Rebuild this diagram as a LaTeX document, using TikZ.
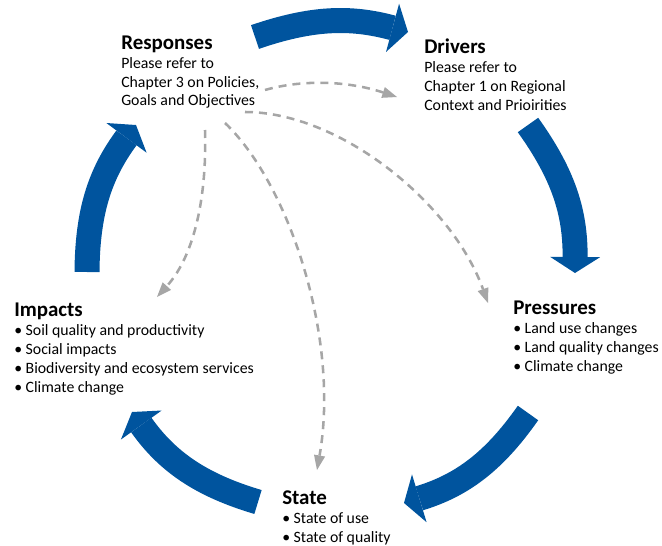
\documentclass[tikz,border=0pt]{standalone}
\usepackage{fontspec}
\setmainfont{Carlito}
\usetikzlibrary{positioning,arrows.meta}
\definecolor{cycleblue}{HTML}{00549E}
\definecolor{linkgray}{HTML}{A6A6A6}
\tikzset{
  head/.style={anchor=base west,inner sep=0pt,font=\fontsize{15.7}{18}\selectfont\bfseries},
  itemtext/.style={anchor=base west,inner sep=0pt,font=\fontsize{11.85}{14}\selectfont},
  cyclearrow/.style={cycleblue,line width=18.75pt,-{Triangle[length=12pt,width=37.5pt,line width=0pt]}},
  linkarrow/.style={linkgray,line width=1.9pt,dash pattern=on 6pt off 4.5pt,-{Triangle[length=11pt,width=8.5pt,line width=0pt]}}
}
\begin{document}
\begin{tikzpicture}[x=0.75pt,y=-0.75pt]
\useasboundingbox (0,0) rectangle (662,546);

% stage texts
\node[head] (resp) at (121,49.5) {Responses};
\foreach \t [count=\i] in {Please refer to,{Chapter 3 on Policies,},Goals and Objectives}
  \node[itemtext] (resp\i) at (121,49.5+18.8*\i) {\t};
\node[head] (driv) at (424,54) {Drivers};
\foreach \t [count=\i] in {Please refer to,Chapter 1 on Regional,Context and Prioirities}
  \node[itemtext] (driv\i) at (424,54+18.8*\i) {\t};
\node[head] (pres) at (513,314) {Pressures};
\foreach \t [count=\i] in {Land use changes,Land quality changes,Climate change}
  \node[itemtext] (pres\i) at (513,314+19*\i) {\textbullet\ \t};
\node[head] (stat) at (282,504) {State};
\foreach \t [count=\i] in {State of use,State of quality}
  \node[itemtext] (stat\i) at (282,504+19*\i) {\textbullet\ \t};
\node[head] (impa) at (14,316.5) {Impacts};
\foreach \t [count=\i] in {Soil quality and productivity,Social impacts,Biodiversity and ecosystem services,Climate change}
  \node[itemtext] (impa\i) at (14,316.5+19*\i) {\textbullet\ \t};

% cycle arrows
\coordinate (rd-s) at (255,37);  \coordinate (rd-e) at (408,32);
\coordinate (dp-s) at (528,125); \coordinate (dp-e) at (575,273);
\coordinate (ps-s) at (528,413); \coordinate (ps-e) at (404,503);
\coordinate (si-s) at (258,502); \coordinate (si-e) at (132,412);
\coordinate (ir-s) at (87,272);  \coordinate (ir-e) at (136,125);
\draw[cyclearrow] (rd-s) to[bend left=17] (rd-e);
\draw[cyclearrow] (dp-s) to[bend left=18] (dp-e);
\draw[cyclearrow] (ps-s) to[bend left=19] (ps-e);
\draw[cyclearrow] (si-s) to[bend left=19] (si-e);
\draw[cyclearrow] (ir-s) to[bend left=18] (ir-e);

% links from responses
\coordinate (l1-s) at (265,90);  \coordinate (l1-e) at (397,97);
\coordinate (l2-s) at (245,112); \coordinate (l2-e) at (488,303);
\coordinate (l3-s) at (225,123); \coordinate (l3-e) at (317,470);
\coordinate (l4-s) at (205,130); \coordinate (l4-e) at (157,297);
\draw[linkarrow] (l1-s) .. controls (300,80) and (345,80) .. (l1-e);
\draw[linkarrow] (l2-s) .. controls (340,112) and (452,203) .. (l2-e);
\draw[linkarrow] (l3-s) .. controls (290,185) and (340,340) .. (l3-e);
\draw[linkarrow] (l4-s) .. controls (207,195) and (195,255) .. (l4-e);
\end{tikzpicture}
\end{document}
